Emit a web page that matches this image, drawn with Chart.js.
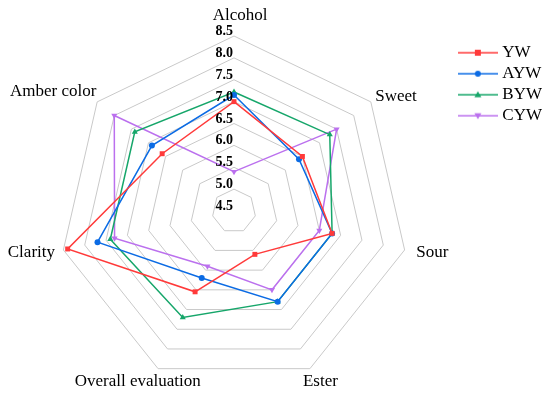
<!DOCTYPE html>
<html lang="en">
<head>
  <meta charset="UTF-8" />
  <title>Radar - sensory scores</title>
  <script src="https://cdn.jsdelivr.net/npm/chart.js"></script>
  <style>
    html, body { margin: 0; background: #fff; overflow: hidden; }
    #wrap { width: 550px; height: 397px; }
  </style>
</head>
<body>
  <div id="wrap"><canvas id="radar" width="550" height="397"></canvas></div>
  <script>
    // data
    const attributes = ['Alcohol', 'Sweet', 'Sour', 'Ester', 'Overall evaluation', 'Clarity', 'Amber color'];
    const ywScores  = [7.0, 6.5, 6.8, 5.6, 6.55, 8.4, 6.6];
    const aywScores = [7.15, 6.4, 6.8, 6.8, 6.2, 7.7, 6.9];
    const bywScores = [7.22, 7.3, 6.8, 6.8, 7.2, 7.4, 7.4];
    const cywScores = [5.4, 7.5, 6.5, 6.5, 5.9, 7.3, 8.0];
    const scaleMin = 4.5;
    const scaleMax = 8.5;
    const scaleStep = 0.5;

    const serif = "'Liberation Serif', 'Times New Roman', serif";

    // how each axis name hangs off its anchor (0 = left/top edge, 1 = right/bottom edge)
    const nameAnchorX = [0.39, 0.12, 0, 0.35, 0.62, 0.93, 0.9];
    const nameAnchorY = [1.0, 0.35, 0.5, 0.35, 0.4, 0.5, 0.65];
    const nameGap = 12;

    // little line + marker picture for the legend
    function legendIcon(color, shape) {
      const c = document.createElement('canvas');
      c.width = 40; c.height = 10;
      const g = c.getContext('2d');
      g.strokeStyle = color;
      g.fillStyle = color;
      g.lineWidth = 1.5;
      g.beginPath(); g.moveTo(0, 5); g.lineTo(40, 5); g.stroke();
      g.beginPath();
      if (shape === 'rect') {
        g.rect(17, 2, 6, 6);
      } else if (shape === 'circle') {
        g.arc(20, 5, 3, 0, Math.PI * 2);
      } else if (shape === 'tri') {
        g.moveTo(20, 1.5); g.lineTo(23.5, 7.5); g.lineTo(16.5, 7.5); g.closePath();
      } else {
        g.moveTo(20, 8.5); g.lineTo(23.5, 2.5); g.lineTo(16.5, 2.5); g.closePath();
      }
      g.fill();
      return c;
    }

    const series = [
      { label: 'YW',  data: ywScores,  color: '#ff3a3a', style: 'rect',     rot: 0,   icon: 'rect' },
      { label: 'AYW', data: aywScores, color: '#0b6be4', style: 'circle',   rot: 0,   icon: 'circle' },
      { label: 'BYW', data: bywScores, color: '#16a66a', style: 'triangle', rot: 0,   icon: 'tri' },
      { label: 'CYW', data: cywScores, color: '#bb70ee', style: 'triangle', rot: 180, icon: 'down' }
    ];

    // tick numbers beside the vertical axis and the axis names, placed from the scale itself
    const radarText = {
      id: 'radarText',
      afterDatasetsDraw(chart) {
        const s = chart.scales.r;
        const ctx = chart.ctx;
        ctx.save();
        ctx.fillStyle = '#000';
        ctx.textBaseline = 'middle';

        ctx.font = "bold 14px " + serif;
        ctx.textAlign = 'right';
        s.ticks.forEach(t => {
          const d = s.getDistanceFromCenterForValue(t.value);
          ctx.fillText(t.value.toFixed(1), s.xCenter - 1, s.yCenter - d - 4.5);
        });

        ctx.font = "17px " + serif;
        ctx.textAlign = 'center';
        const h = 17;
        chart.data.labels.forEach((name, i) => {
          const p = s.getPointPosition(i, s.drawingArea + nameGap);
          const w = ctx.measureText(name).width;
          const cx = p.x - nameAnchorX[i] * w + w / 2;
          const cy = p.y - nameAnchorY[i] * h + h / 2;
          ctx.fillText(name, cx, cy);
        });
        ctx.restore();
      }
    };

    new Chart(document.getElementById('radar'), {
      type: 'radar',
      data: {
        labels: attributes,
        datasets: series.map(s => ({
          label: s.label,
          data: s.data,
          borderColor: s.color,
          backgroundColor: s.color,
          borderWidth: 1.5,
          fill: false,
          pointStyle: s.style,
          rotation: s.rot,
          pointRadius: s.style === 'circle' ? 3 : 3.5,
          pointBorderWidth: 0,
          pointBackgroundColor: s.color
        }))
      },
      options: {
        responsive: false,
        animation: false,
        layout: { padding: { top: 36, bottom: 11, left: 11, right: -2 } },
        scales: {
          r: {
            min: scaleMin,
            max: scaleMax,
            ticks: { stepSize: scaleStep, display: false },
            grid: { color: '#c9c9c9', lineWidth: 1 },
            angleLines: { display: false },
            pointLabels: { display: false }
          }
        },
        plugins: {
          tooltip: { enabled: false },
          legend: {
            position: 'right',
            align: 'start',
            title: { display: true, text: '', font: { size: 1 }, padding: { top: 3, bottom: 0 } },
            labels: {
              color: '#000',
              font: { family: serif, size: 17 },
              usePointStyle: true,
              pointStyleWidth: 32,
              padding: 4,
              generateLabels: chart => series.map((s, i) => ({
                text: s.label,
                pointStyle: legendIcon(s.color, s.icon),
                fillStyle: s.color,
                strokeStyle: s.color,
                lineWidth: 0,
                hidden: false,
                datasetIndex: i,
                fontColor: '#000'
              }))
            }
          }
        }
      },
      plugins: [radarText]
    });
  </script>
</body>
</html>
